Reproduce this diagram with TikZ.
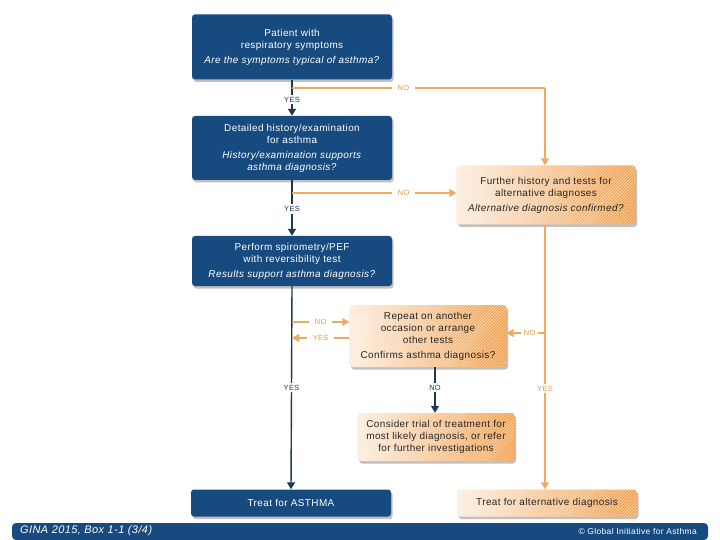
\documentclass[tikz,border=0pt]{standalone}
\usepackage{fontspec}
\setmainfont{Liberation Sans}[LetterSpace=4]
\usetikzlibrary{arrows.meta,shadows,patterns}
\definecolor{gblue}{HTML}{174A7E}
\definecolor{gline}{HTML}{1C3A55}
\definecolor{oline}{HTML}{F0AA5E}
\definecolor{otext}{HTML}{E39A4C}
\definecolor{olight}{HTML}{FDF3EA}
\definecolor{odark}{HTML}{F39C45}
\tikzset{
  bluebox/.style={rounded corners=3bp, fill=gblue, text=white, align=center,
    font=\fontsize{10}{12}\selectfont, inner sep=2bp,
    drop shadow={shadow xshift=1.5bp, shadow yshift=-2.5bp, fill=black!45, opacity=0.55}},
  orangebox/.style={rounded corners=3bp, left color=olight, right color=odark, text=black!85, align=center,
    font=\fontsize{10}{12}\selectfont, inner sep=2bp,
    drop shadow={shadow xshift=1.5bp, shadow yshift=-2.5bp, fill=black!45, opacity=0.55},
    postaction={pattern=north east lines, pattern color=white!75!odark}},
  darrow/.style={draw=gline, line width=1.4bp, -{Triangle[length=7bp,width=8bp]}},
  oarrow/.style={draw=oline, line width=1.4bp, -{Triangle[length=7bp,width=8bp]}},
  oline/.style={draw=oline, line width=1.4bp},
  dlab/.style={fill=white, text=gline, font=\fontsize{7.5}{8}\selectfont, inner xsep=3bp, inner ysep=2bp},
  olab/.style={fill=white, text=otext, font=\fontsize{7.5}{8}\selectfont, inner xsep=6bp, inner ysep=2bp},
}
\begin{document}
\begin{tikzpicture}[x=1bp,y=-1bp]
\useasboundingbox (0,0) rectangle (720,540);
% boxes
\node[bluebox, minimum width=200bp, minimum height=65bp] (b1) at (292,47) {Patient with\\ respiratory symptoms\\[3bp] \textit{Are the symptoms typical of asthma?}};
\node[bluebox, minimum width=200bp, minimum height=64bp] (b2) at (292,148) {Detailed history/examination\\ for asthma\\[3bp] \textit{History/examination supports}\\ \textit{asthma diagnosis?}};
\node[bluebox, minimum width=200bp, minimum height=50bp] (b3) at (292,261) {Perform spirometry/PEF\\ with reversibility test\\[3bp] \textit{Results support asthma diagnosis?}};
\node[orangebox, minimum width=179bp, minimum height=59bp] (fh) at (546,195) {Further history and tests for\\ alternative diagnoses\\[3bp] \textit{Alternative diagnosis confirmed?}};
\node[orangebox, minimum width=157bp, minimum height=62bp] (rp) at (428,336) {Repeat on another\\ occasion or arrange\\ other tests\\[3bp] Confirms asthma diagnosis?};
\node[orangebox, minimum width=157bp, minimum height=48bp] (ct) at (436,437) {Consider trial of treatment for\\ most likely diagnosis, or refer\\ for further investigations};
\node[bluebox, minimum width=200bp, minimum height=27bp] (ta) at (291,503) {Treat for ASTHMA};
\node[orangebox, minimum width=180bp, minimum height=27bp] (tb) at (547,503) {Treat for alternative diagnosis};
% footer
\fill[gblue, rounded corners=4bp] (12,540) -- (12,523) -- (708,523) -- (708,540) -- cycle;
\node[anchor=west, text=white, font=\fontsize{11}{12}\selectfont\itshape, inner sep=0] (ft1) at (20,531) {GINA 2015, Box 1-1 (3/4)};
\node[anchor=east, text=white, font=\fontsize{8.5}{10}\selectfont, inner sep=0] (ft2) at (697,531) {© Global Initiative for Asthma};
% coordinates
\coordinate (c1) at (292,88);
\coordinate (c2) at (545,88);
\coordinate (c3) at (292,193);
\coordinate (c4) at (292,322);
\coordinate (c5) at (292,338);
\coordinate (c6) at (545,333);
\coordinate (c7) at (435,365);
% dark main line
\draw[darrow] (b1.south) -- node[dlab, pos=0.55] (y1) {YES} (b2.north);
\draw[darrow] (b2.south) -- node[dlab, pos=0.52] (y2) {YES} (b3.north);
\draw[darrow] (b3.south) -- node[dlab, pos=0.5] (y3) {YES} (ta.north);
% orange NO from b1
\draw[oline] (c1) -- node[olab, pos=0.44] (n1) {NO} (c2);
\draw[oarrow] (c2) -- (fh.north -| c2);
% NO from b2
\draw[oarrow] (c3) -- node[olab, pos=0.68] (n2) {NO} (fh.west |- c3);
% NO / YES at repeat box
\draw[oarrow] (c4) -- node[olab, pos=0.5] (n3) {NO} (rp.west |- c4);
\draw[oarrow] (rp.west |- c5) -- node[olab, pos=0.5] (y4) {YES} (c5);
% right orange line
\draw[oarrow] (fh.south -| c6) -- node[olab, pos=0.62] (y5) {YES} (tb.north -| c6);
\draw[oarrow] (c6) -- node[olab, inner xsep=3bp, pos=0.4] (n4) {NO} (rp.east |- c6);
% dark NO from repeat
\draw[darrow] (rp.south -| c7) -- node[dlab, pos=0.45] (n5) {NO} (ct.north -| c7);
\end{tikzpicture}
\end{document}
